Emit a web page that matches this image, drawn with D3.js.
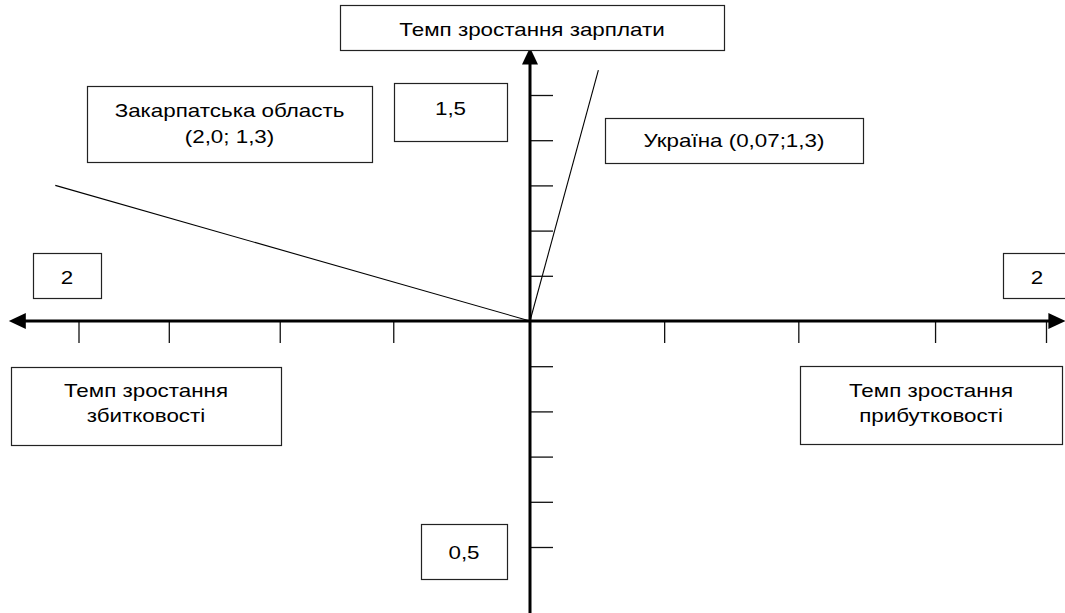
<!DOCTYPE html>
<html>
<head>
<meta charset="utf-8">
<script src="https://cdn.jsdelivr.net/npm/d3@7/dist/d3.min.js"></script>
<style>
  html, body { margin: 0; padding: 0; background: #fff; }
  svg { display: block; }
  text { font-family: "Liberation Sans", Arial, sans-serif; fill: #000; }
</style>
</head>
<body>
<svg id="chart" width="1065" height="613"></svg>
<script>
// ---- data ----
const xTickValues = [-1.75, -1.4, -0.97, -0.53, 0.52, 1.04, 1.57, 2.0];
const yTickValues = [0.5, 0.6, 0.7, 0.8, 0.9, 1.1, 1.2, 1.3, 1.4, 1.5];
const xAxisExtent = [-2.02, 2.075];
const yAxisExtent = [0.35, 1.605];
const origin = { x: 0, y: 1.0 };
const seriesNames = ["Закарпатська область", "Україна"];
const seriesEnds = [ { x: -1.84, y: 1.30 }, { x: 0.265, y: 1.555 } ];
const axisTitles = ["Темп зростання зарплати", "Темп зростання збитковості", "Темп зростання прибутковості"];
const scaleLabels = ["1,5", "0,5", "2", "2"];
const pointLabels = ["Закарпатська область|(2,0; 1,3)", "Україна (0,07;1,3)"];

// ---- scales ----
const svg = d3.select("#chart");
const x = d3.scaleLinear().domain([-2, 2]).range([14, 1046]);
const y = d3.scaleLinear().domain([0.5, 1.5]).range([547, 95]);

// ---- series lines ----
const line = d3.line().x(d => x(d.x)).y(d => y(d.y));
svg.append("g").selectAll("path")
  .data(seriesEnds)
  .join("path")
  .attr("d", d => line([origin, d]))
  .attr("fill", "none")
  .attr("stroke", "#000")
  .attr("stroke-width", 1.1);

// ---- axes ticks ----
const gx = svg.append("g")
  .attr("transform", `translate(0,${y(origin.y)})`)
  .call(d3.axisBottom(x).tickValues(xTickValues).tickSize(22).tickFormat(""));
gx.select(".domain").remove();
gx.selectAll(".tick line").attr("stroke", "#111").attr("stroke-width", 1.3);

const gy = svg.append("g")
  .attr("transform", `translate(${x(origin.x)},0)`)
  .call(d3.axisRight(y).tickValues(yTickValues).tickSize(23).tickFormat(""));
gy.select(".domain").remove();
gy.selectAll(".tick line").attr("stroke", "#111").attr("stroke-width", 1.3);

// ---- main axis lines with arrowheads ----
const x0 = x(origin.x), y0 = y(origin.y);
const xl = x(xAxisExtent[0]), xr = x(xAxisExtent[1]);
const yt = y(yAxisExtent[1]), yb = y(yAxisExtent[0]);
const ah = 17, aw = 8;
svg.append("line").attr("x1", xl + ah - 2).attr("x2", xr - ah + 2).attr("y1", y0).attr("y2", y0)
  .attr("stroke", "#000").attr("stroke-width", 3);
svg.append("line").attr("x1", x0).attr("x2", x0).attr("y1", yt + ah - 2).attr("y2", yb)
  .attr("stroke", "#000").attr("stroke-width", 3);
const arrows = [
  [[xl, y0], [xl + ah, y0 - aw], [xl + ah, y0 + aw]],
  [[xr, y0], [xr - ah, y0 - aw], [xr - ah, y0 + aw]],
  [[x0, yt], [x0 - aw, yt + ah], [x0 + aw, yt + ah]]
];
svg.append("g").selectAll("polygon").data(arrows).join("polygon")
  .attr("points", d => d.map(p => p.join(",")).join(" "))
  .attr("fill", "#000");

// ---- label boxes ----
const boxes = [
  { text: axisTitles[0], x0: 340, y0: 5, x1: 724, y1: 50, base: [36] },
  { text: pointLabels[0], x0: 87, y0: 86, x1: 372, y1: 162, base: [117, 143] },
  { text: scaleLabels[0], x0: 394, y0: 83, x1: 507, y1: 141, base: [115] },
  { text: pointLabels[1], x0: 605, y0: 118, x1: 863, y1: 163, base: [147] },
  { text: scaleLabels[2], x0: 33, y0: 253, x1: 101, y1: 298, base: [284] },
  { text: scaleLabels[3], x0: 1003, y0: 253, x1: 1071, y1: 298, base: [284] },
  { text: axisTitles[1].replace(" зб", "|зб"), x0: 11, y0: 367, x1: 281, y1: 445, base: [397, 422] },
  { text: axisTitles[2].replace(" пр", "|пр"), x0: 800, y0: 366, x1: 1062, y1: 444, base: [397, 422] },
  { text: scaleLabels[1], x0: 421, y0: 524, x1: 507, y1: 579, base: [559] }
];
const bg = svg.append("g").selectAll("g").data(boxes).join("g");
bg.append("rect")
  .attr("x", d => d.x0 + 0.5).attr("y", d => d.y0 + 0.5)
  .attr("width", d => d.x1 - d.x0).attr("height", d => d.y1 - d.y0)
  .attr("fill", "#fff").attr("stroke", "#222").attr("stroke-width", 1.2);
bg.each(function(d) {
  const lines = d.text.split("|");
  const g = d3.select(this);
  lines.forEach((t, i) => {
    g.append("text")
      .attr("transform", `translate(${(d.x0 + d.x1) / 2},${d.base[i]}) scale(1.21,1)`)
      .attr("text-anchor", "middle")
      .attr("font-size", 18.5)
      .text(t);
  });
});
</script>
</body>
</html>
